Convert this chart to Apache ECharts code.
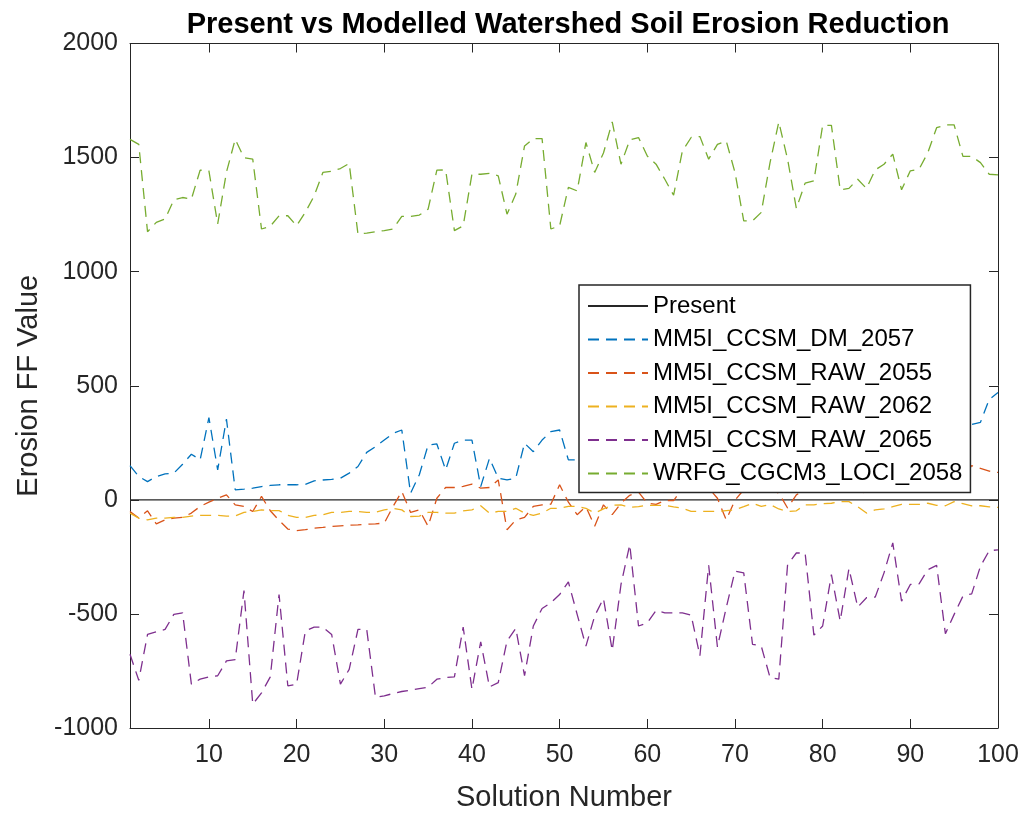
<!DOCTYPE html>
<html>
<head>
<meta charset="utf-8">
<script src="https://cdn.jsdelivr.net/npm/echarts@6/dist/echarts.min.js"></script>
<style>html,body{margin:0;padding:0;background:#fff;}#c{width:1024px;height:817px;}</style>
</head>
<body>
<div id="c"></div>
<script>
// ---- data ----
var solutionNumbers = [];
for (var i = 1; i <= 100; i++) solutionNumbers.push(i);

var xTickValues = [10, 20, 30, 40, 50, 60, 70, 80, 90, 100];
var yTickValues = [-1000, -500, 0, 500, 1000, 1500, 2000];

var seriesNames = ['Present', 'MM5I_CCSM_DM_2057', 'MM5I_CCSM_RAW_2055', 'MM5I_CCSM_RAW_2062', 'MM5I_CCSM_RAW_2065', 'WRFG_CGCM3_LOCI_2058'];

var present = [0,0,0,0,0,0,0,0,0,0, 0,0,0,0,0,0,0,0,0,0, 0,0,0,0,0,0,0,0,0,0, 0,0,0,0,0,0,0,0,0,0,
  0,0,0,0,0,0,0,0,0,0, 0,0,0,0,0,0,0,0,0,0, 0,0,0,0,0,0,0,0,0,0, 0,0,0,0,0,0,0,0,0,0,
  0,0,0,0,0,0,0,0,0,0, 0,0,0,0,0,0,0,0,0,0];

var dm2057 = [150,102,80,102,114,117,156,200,175,360,
  131,354,44,47,51,58,63,66,66,66,
  68,83,87,90,95,117,146,208,233,262,
  291,306,29,110,240,245,131,248,262,262,
  58,182,95,87,95,248,211,262,299,306,
  175,175,180,210,240,200,260,290,250,230,
  280,310,270,250,300,330,290,260,280,320,
  300,270,310,340,300,280,320,350,310,290,
  330,360,320,300,340,330,310,350,370,330,
  320,340,360,330,310,320,330,340,440,470];

var raw2055 = [-51,-80,-48,-105,-88,-80,-77,-58,-29,-10,
  7,22,-22,-29,-51,15,-48,-90,-128,-135,
  -131,-124,-121,-117,-114,-111,-110,-107,-105,-102,
  -29,37,-55,-44,-116,7,54,54,59,69,
  51,54,87,-131,-88,-77,-29,-22,-19,66,
  -10,-65,-30,-116,-22,-65,-15,20,34,-15,
  -20,-3,-3,51,40,45,51,7,-88,-2,
  44,37,44,44,30,-36,22,44,60,55,
  70,60,75,50,22,59,70,85,60,75,
  90,70,80,95,85,100,150,138,126,120];

var raw2062 = [-58,-80,-88,-80,-80,-77,-77,-71,-68,-68,
  -68,-71,-71,-55,-51,-44,-47,-47,-68,-77,
  -77,-68,-66,-55,-55,-51,-51,-55,-55,-44,
  -37,-44,-73,-71,-55,-55,-58,-58,-48,-44,
  -26,-58,-51,-51,-37,-58,-68,-58,-37,-37,
  -29,-29,-37,-58,-40,-24,-22,-33,-30,-24,
  -24,-24,-31,-37,-51,-51,-51,-51,-47,-44,
  -30,-15,-29,-20,-40,-51,-48,-22,-22,-17,
  -15,-8,-8,-30,-58,-44,-40,-30,-20,-20,
  -20,-15,-24,-26,-8,-17,-26,-26,-31,-33];

var raw2065 = [-677,-791,-590,-578,-568,-502,-495,-808,-786,-776,
  -771,-706,-700,-398,-896,-846,-776,-415,-815,-808,
  -575,-558,-558,-590,-808,-743,-568,-568,-866,-859,
  -849,-840,-834,-827,-821,-786,-779,-776,-558,-830,
  -622,-820,-801,-619,-563,-771,-553,-476,-451,-415,
  -360,-502,-641,-509,-432,-660,-371,-196,-553,-539,
  -485,-495,-495,-495,-505,-684,-287,-645,-473,-313,
  -320,-633,-641,-779,-786,-284,-233,-233,-593,-553,
  -328,-531,-301,-470,-429,-426,-320,-189,-444,-371,
  -368,-306,-287,-587,-502,-422,-412,-291,-223,-219];

var loci2058 = [1580,1558,1175,1216,1231,1315,1325,1318,1445,1442,
  1209,1436,1580,1500,1493,1187,1199,1245,1245,1201,
  1260,1332,1435,1440,1452,1474,1165,1169,1175,1180,
  1187,1242,1242,1248,1274,1445,1446,1180,1201,1427,
  1427,1431,1420,1252,1340,1551,1583,1583,1187,1201,
  1369,1354,1566,1435,1520,1656,1471,1577,1588,1507,
  1471,1405,1335,1529,1588,1592,1493,1558,1573,1435,
  1223,1223,1260,1478,1656,1493,1277,1388,1398,1641,
  1641,1359,1365,1405,1365,1446,1471,1515,1359,1442,
  1449,1522,1631,1643,1643,1505,1505,1478,1427,1424];

var seriesValues = [present, dm2057, raw2055, raw2062, raw2065, loci2058];
var seriesColors = ['#262626', '#0072BD', '#D95319', '#EDB120', '#7E2F8E', '#77AC30'];

// ---- chart ----
var FONT = '"Liberation Sans", Arial, Helvetica, sans-serif';
var AX = '#262626';

function pairs(vals) {
  return vals.map(function (v, k) { return [solutionNumbers[k], v]; });
}

var series = seriesNames.map(function (name, k) {
  return {
    name: name,
    type: 'line',
    xAxisIndex: 0,
    yAxisIndex: 0,
    data: pairs(seriesValues[k]),
    symbol: 'none',
    showSymbol: false,
    animation: false,
    lineStyle: {
      color: seriesColors[k],
      width: 1.3,
      type: k === 0 ? 'solid' : [11, 7]
    },
    itemStyle: { color: k === 0 ? '#000' : seriesColors[k] }
  };
});

var chart = echarts.init(document.getElementById('c'), null, { renderer: 'canvas' });
chart.setOption({
  animation: false,
  backgroundColor: '#fff',
  textStyle: { fontFamily: FONT },
  title: {
    text: 'Present vs Modelled Watershed Soil Erosion Reduction',
    left: 563,
    top: 5,
    textAlign: 'center',
    textStyle: { fontFamily: FONT, fontSize: 29, fontWeight: 'bold', color: '#000' }
  },
  grid: { left: 130, right: 26, top: 43.5, bottom: 85, containLabel: false },
  legend: {
    orient: 'vertical',
    left: 579,
    top: 285,
    padding: [9, 8, 7, 8],
    itemWidth: 60,
    itemHeight: 14,
    itemGap: 9.5,
    itemStyle: { opacity: 0 },
    backgroundColor: '#fff',
    borderColor: AX,
    borderWidth: 1.5,
    borderRadius: 0,
    textStyle: { fontFamily: FONT, fontSize: 24, lineHeight: 24, color: '#000' },
    data: seriesNames
  },
  xAxis: [{
    type: 'value',
    min: 1,
    max: 100,
    position: 'bottom',
    name: 'Solution Number',
    nameLocation: 'middle',
    nameGap: 55,
    nameTextStyle: { fontFamily: FONT, fontSize: 29, color: AX },
    axisLine: { show: true, onZero: false, lineStyle: { color: AX, width: 1 } },
    axisTick: { show: true, inside: true, length: 9, customValues: xTickValues, lineStyle: { color: AX } },
    axisLabel: { show: true, customValues: xTickValues, margin: 15, fontFamily: FONT, fontSize: 25, color: AX },
    splitLine: { show: false }
  }, {
    type: 'value',
    min: 1,
    max: 100,
    position: 'top',
    axisLine: { show: true, onZero: false, lineStyle: { color: AX, width: 1 } },
    axisTick: { show: true, inside: true, length: 9, customValues: xTickValues, lineStyle: { color: AX } },
    axisLabel: { show: false },
    splitLine: { show: false }
  }],
  yAxis: [{
    type: 'value',
    min: -1000,
    max: 2000,
    interval: 500,
    position: 'left',
    name: 'Erosion FF Value',
    nameLocation: 'middle',
    nameGap: 85,
    nameRotate: 90,
    nameTextStyle: { fontFamily: FONT, fontSize: 29, color: AX },
    axisLine: { show: true, onZero: false, lineStyle: { color: AX, width: 1 } },
    axisTick: { show: true, inside: true, length: 9, lineStyle: { color: AX } },
    axisLabel: { show: true, margin: 12, fontFamily: FONT, fontSize: 25, color: AX,
      formatter: function (v) { return String(v); } },
    splitLine: { show: false }
  }, {
    type: 'value',
    min: -1000,
    max: 2000,
    interval: 500,
    position: 'right',
    axisLine: { show: true, onZero: false, lineStyle: { color: AX, width: 1 } },
    axisTick: { show: true, inside: true, length: 9, lineStyle: { color: AX } },
    axisLabel: { show: false },
    splitLine: { show: false }
  }],
  series: series
});
</script>
</body>
</html>
